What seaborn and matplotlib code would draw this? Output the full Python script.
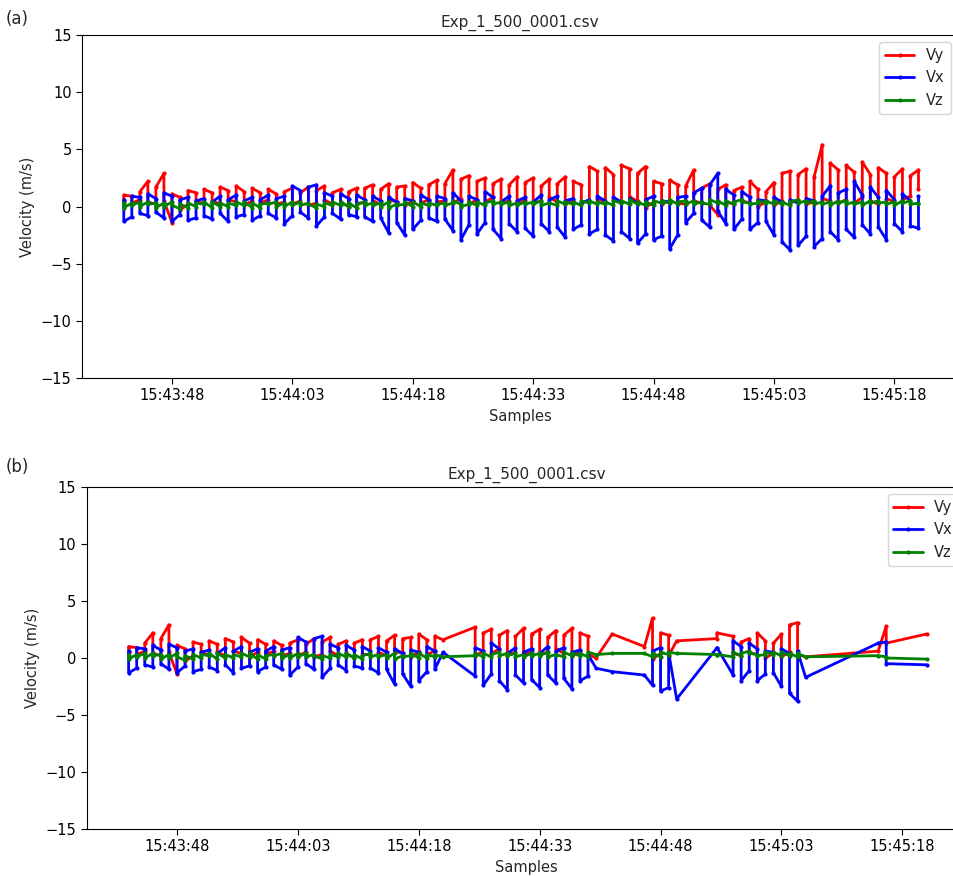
import matplotlib
matplotlib.use('Agg')
import matplotlib.pyplot as plt
import matplotlib.dates as mdates
import pandas as pd
import seaborn as sns

# one reading per sensor per second; each second has a low and a high sample
start = '2019-01-01 15:43:42'
n_sec = 100

vy_lo = [0.5, 0.3, 0.6, 0.4, 0.2, 0.5, -1.4, -0.3, 0.2, 0.4,
         0.3, 0.5, 0.2, 0.6, 0.4, 0.1, 0.5, 0.3, 0.6, 0.2,
         0.4, 0.2, 0.5, 0.1, 0.3, 0.6, 0.2, 0.4, 0.0, 0.3,
         0.3, 0.5, 0.2, 0.6, 0.4, 0.1, 0.5, 0.3, 0.6, 0.4,
         0.5, 0.3, 0.7, 0.2, 0.6, 0.4, 0.8, 0.3, 0.5, 0.2,
         0.6, 0.3, 0.5, 0.8, 0.4, 0.2, 0.6, 0.3, 0.5, 0.7,
         0.4, 0.6, 0.3, 0.8, 0.5, -0.1, 0.4, 0.2, 0.5, 0.3,
         0.2, 0.5, 0.3, 0.1, -0.7, 0.4, 0.2, 0.5, 0.3, 0.0,
         0.4, 0.1, 0.5, 0.3, 0.6, 0.2, 0.4, 0.7, 0.5, 0.3,
         0.6, 0.3, 0.8, 0.5, 0.2, 0.7, 0.4, 0.6, 0.9, 1.5]
vy_hi = [1.0, 0.9, 1.3, 2.2, 1.7, 2.9, 1.1, 0.8, 1.4, 1.2,
         1.5, 1.2, 1.7, 1.4, 1.8, 1.3, 1.6, 1.2, 1.5, 1.1,
         1.3, 1.6, 1.2, 1.7, 1.4, 1.8, 1.2, 1.5, 1.3, 1.6,
         1.6, 1.9, 1.5, 2.0, 1.7, 1.8, 2.1, 1.6, 1.9, 2.3,
         2.0, 3.2, 2.4, 2.7, 2.2, 2.5, 2.0, 2.4, 1.9, 2.6,
         2.1, 2.5, 1.8, 2.4, 2.0, 2.6, 2.2, 1.9, 3.5, 3.1,
         3.4, 2.8, 3.6, 3.3, 2.9, 3.5, 2.2, 2.0, 2.3, 1.9,
         1.8, 3.2, 1.6, 2.0, 1.5, 1.9, 1.4, 1.7, 2.2, 1.5,
         1.3, 2.1, 2.9, 3.1, 2.8, 3.3, 2.6, 5.4, 3.8, 3.2,
         3.6, 3.0, 3.9, 2.8, 3.4, 2.9, 2.6, 3.3, 2.7, 3.2]
vx_hi = [0.6, 0.9, 0.8, 1.1, 0.7, 1.2, 0.9, 0.6, 0.8, 0.5,
         0.7, 0.4, 0.9, 0.6, 1.0, 0.5, 0.8, 0.6, 1.0, 0.7,
         0.9, 1.8, 1.4, 1.7, 1.9, 1.2, 0.9, 1.1, 0.7, 1.0,
         0.6, 0.9, 0.5, 0.8, 0.4, 0.7, 0.5, 1.0, 0.6, 0.9,
         0.7, 1.2, 0.5, 0.9, 0.6, 1.3, 0.8, 0.4, 0.9, 0.5,
         0.8, 0.4, 1.0, 0.6, 0.9, 0.5, 0.7, 0.3, 0.6, 0.9,
         0.5, 0.8, 0.4, 0.7, 0.3, 0.6, 0.9, 0.5, 0.4, 0.8,
         0.9, 1.2, 1.6, 1.9, 2.9, 1.5, 1.0, 1.3, 0.8, 0.6,
         0.5, 0.8, 0.4, 0.6, 0.3, 0.7, 0.5, 0.9, 1.8, 1.2,
         1.5, 2.2, 1.0, 1.7, 0.8, 1.4, 0.6, 1.1, 0.5, 0.9]
vx_lo = [-1.3, -0.9, -0.6, -0.8, -0.5, -1.0, -1.3, -0.7, -1.2, -1.0,
         -0.8, -1.1, -0.6, -1.3, -0.9, -0.7, -1.2, -0.8, -0.6, -1.0,
         -1.5, -0.8, -0.5, -1.0, -1.7, -0.9, -0.6, -1.1, -0.7, -0.9,
         -0.9, -1.3, -1.0, -2.3, -1.4, -2.5, -2.0, -1.2, -1.0, -1.3,
         -1.1, -2.1, -2.9, -1.6, -2.4, -1.4, -2.0, -2.8, -1.5, -2.2,
         -1.9, -2.6, -1.5, -2.2, -1.8, -2.7, -2.0, -1.6, -2.4, -2.0,
         -2.5, -3.0, -2.2, -2.8, -3.2, -2.4, -2.9, -2.6, -3.7, -2.5,
         -1.4, -0.6, -1.2, -1.8, -0.4, -1.5, -2.0, -1.1, -2.0, -1.4,
         -1.3, -2.5, -3.1, -3.8, -3.4, -2.6, -3.5, -2.8, -2.2, -2.9,
         -2.0, -2.7, -1.6, -2.4, -1.8, -2.9, -1.5, -2.2, -1.7, -1.9]
vz_a = [0.3, 0.1, 0.4, 0.2, 0.3, 0.0, 0.4, 0.2, -0.1, 0.3,
        0.2, 0.4, 0.0, 0.3, 0.1, 0.4, -0.1, 0.2, 0.3, 0.0,
        0.3, 0.1, 0.4, 0.2, -0.1, 0.3, 0.1, 0.4, 0.0, 0.2,
        0.4, 0.1, 0.3, -0.1, 0.2, 0.4, 0.0, 0.3, 0.1, 0.2,
        0.3, 0.5, 0.2, 0.4, 0.1, 0.3, 0.5, 0.2, 0.4, 0.1,
        0.4, 0.2, 0.5, 0.3, 0.1, 0.4, 0.2, 0.5, 0.3, 0.4,
        0.2, 0.5, 0.3, 0.6, 0.2, 0.4, 0.1, 0.5, 0.3, 0.4,
        0.5, 0.2, 0.4, 0.6, 0.3, 0.5, 0.2, 0.4, 0.3, 0.5,
        0.3, 0.5, 0.2, 0.4, 0.6, 0.3, 0.5, 0.2, 0.4, 0.3,
        0.5, 0.2, 0.4, 0.3, 0.5, 0.2, 0.4, 0.3, 0.5, 0.2]
vz_b = [-0.1, 0.3, 0.0, 0.4, -0.1, 0.3, 0.1, -0.2, 0.3, 0.0,
        0.4, -0.1, 0.3, 0.0, 0.4, 0.1, 0.3, -0.1, 0.2, 0.4,
        0.0, 0.4, 0.1, 0.3, 0.2, 0.0, 0.4, 0.1, 0.3, -0.1,
        0.1, 0.3, 0.0, 0.4, 0.1, 0.2, 0.4, 0.0, 0.3, 0.1,
        0.1, 0.3, 0.0, 0.2, 0.4, 0.1, 0.2, 0.4, 0.1, 0.3,
        0.2, 0.4, 0.1, 0.3, 0.5, 0.2, 0.4, 0.1, 0.5, 0.2,
        0.4, 0.1, 0.5, 0.2, 0.4, 0.1, 0.5, 0.3, 0.6, 0.2,
        0.2, 0.5, 0.3, 0.2, 0.5, 0.1, 0.4, 0.6, 0.2, 0.3,
        0.5, 0.2, 0.4, 0.1, 0.3, 0.5, 0.2, 0.4, 0.1, 0.5,
        0.2, 0.4, 0.1, 0.5, 0.3, 0.4, 0.1, 0.5, 0.2, 0.3]

# panel (b): seconds kept from the full record, plus the isolated samples
b_kept = [(0, 38), (43, 57), (65, 67), (75, 83)]
b_extra_sec = [39, 58, 60, 64, 68, 73, 73, 84, 93, 94, 94, 99]
b_extra_vy = [1.6, 0.0, 2.1, 1.0, 1.5, 1.7, 2.2, 0.1, 0.6, 2.8, 1.3, 2.1]
b_extra_vx = [0.5, -0.9, -1.2, -1.5, -3.6, 0.9, 0.9, -1.7, 1.3, 1.4, -0.5, -0.6]
b_extra_vz = [0.1, 0.3, 0.4, 0.4, 0.4, 0.3, 0.3, 0.1, 0.2, 0.1, 0.0, -0.1]

times = pd.date_range(start, periods=n_sec, freq='s')


def full_frame(secs):
    # samples inside a second come in alternating order, so neighbouring
    # seconds join top-to-top and bottom-to-bottom
    rows = []
    for k in secs:
        first = (times[k], vy_lo[k], vx_hi[k], vz_a[k])
        second = (times[k], vy_hi[k], vx_lo[k], vz_b[k])
        if k % 2 == 0:
            rows += [first, second]
        else:
            rows += [second, first]
    return pd.DataFrame(rows, columns=['time', 'Vy', 'Vx', 'Vz'])


df_a = full_frame(range(n_sec))

secs_b = [k for a, b in b_kept for k in range(a, b + 1)]
df_b = full_frame(secs_b)
df_extra = pd.DataFrame({'time': times[b_extra_sec], 'Vy': b_extra_vy,
                         'Vx': b_extra_vx, 'Vz': b_extra_vz})
df_b = pd.concat([df_b, df_extra]).sort_values('time', kind='mergesort').reset_index(drop=True)

sns.set_style('ticks', {'axes.edgecolor': 'black', 'xtick.color': 'black',
                        'ytick.color': 'black', 'xtick.direction': 'out',
                        'ytick.direction': 'out'})
plt.rcParams['font.family'] = ['DejaVu Sans']
plt.rcParams['font.size'] = 10.5

fig = plt.figure(figsize=(9.54, 8.76), dpi=100)
ax_a = fig.add_axes([0.086, 0.5685, 0.918, 0.3915])
ax_b = fig.add_axes([0.0909, 0.0537, 0.9217, 0.3904])

colors = {'Vy': 'red', 'Vx': 'blue', 'Vz': 'green'}

for ax, df in [(ax_a, df_a), (ax_b, df_b)]:
    for col in ['Vy', 'Vx', 'Vz']:
        sns.lineplot(data=df, x='time', y=col, ax=ax, color=colors[col],
                     estimator=None, sort=False, marker='.', markersize=6,
                     markeredgewidth=0, linewidth=2.0, label=col)
    ax.set_ylim(-15, 15)
    ax.set_yticks([-15, -10, -5, 0, 5, 10, 15])
    ax.set_xlim(pd.Timestamp('2019-01-01 15:43:36.8'), pd.Timestamp('2019-01-01 15:45:25.9'))
    ax.xaxis.set_major_locator(mdates.SecondLocator(bysecond=[3, 18, 33, 48]))
    ax.xaxis.set_major_formatter(mdates.DateFormatter('%H:%M:%S'))
    ax.set_title('Exp_1_500_0001.csv', fontsize=11)
    ax.set_xlabel('Samples')
    ax.set_ylabel('Velocity (m/s)')
    ax.tick_params(labelsize=10.5, length=4)
    ax.legend(loc='upper right', fontsize=10.5)

fig.text(0.006, 0.973, '(a)', fontsize=12)
fig.text(0.006, 0.461, '(b)', fontsize=12)

fig.savefig('out.png', dpi=100)
